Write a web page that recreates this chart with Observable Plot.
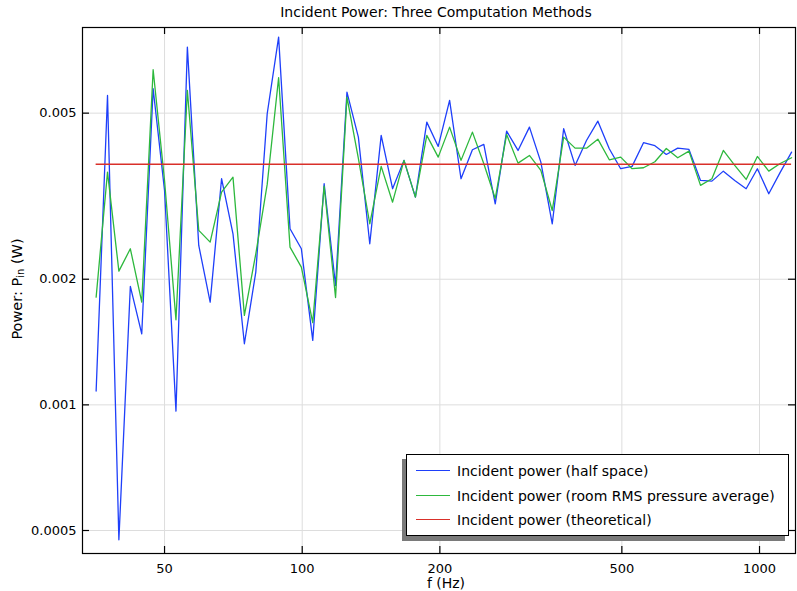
<!DOCTYPE html>
<html><head><meta charset="utf-8">
<script src="https://cdn.jsdelivr.net/npm/d3@7"></script>
<script src="https://cdn.jsdelivr.net/npm/@observablehq/plot@0.6"></script>
<style>
body{margin:0;background:#fff;font-family:"DejaVu Sans",sans-serif;color:#000;}
#wrap{position:relative;width:797px;height:591px;overflow:hidden;}
#wrap svg{position:absolute;left:0;top:0;}
.title{position:absolute;left:186px;top:5px;width:500px;text-align:center;font-size:14px;line-height:15px;}
.xlab{position:absolute;left:346px;top:576px;width:200px;text-align:center;font-size:14px;line-height:14px;}
.ylab{position:absolute;left:-83px;top:281px;width:200px;height:16px;text-align:center;font-size:14.5px;line-height:16px;transform:rotate(-90deg);transform-origin:50% 50%;}
.ylab sub{font-size:10px;vertical-align:-2px;line-height:0;}
.legend{position:absolute;left:406px;top:454px;width:383px;height:82px;box-sizing:border-box;border:1px solid #000;background:#fff;box-shadow:-4px 5px 0 #7a7a7a;}
.row{position:absolute;left:0;height:16px;width:100%;}
.row .sw{position:absolute;left:9px;top:7px;width:34px;height:0;border-top:1.5px solid;}
.row .tx{position:absolute;left:50px;top:0;font-size:14px;line-height:16px;white-space:nowrap;}
</style></head>
<body>
<div id="wrap"></div>
<script>
const freq = [35.43, 37.52, 39.73, 42.09, 44.58, 47.21, 50.00, 52.96, 56.09, 59.40,
  62.91, 66.63, 70.57, 74.74, 79.16, 83.84, 88.80, 94.05, 99.57, 105.45,
  111.68, 118.28, 125.27, 132.68, 140.52, 148.83, 157.62, 166.94, 176.81, 187.26,
  198.33, 210.05, 222.46, 235.61, 249.54, 264.29, 279.91, 296.45, 313.97, 332.53,
  352.19, 373.01, 395.05, 418.40, 443.13, 469.32, 497.06, 526.44, 557.56, 590.51,
  625.42, 662.39, 701.0, 743.00, 786.92, 833.43, 882.70, 934.87, 989.26, 1047.7,
  1109.7, 1175.2];
const halfSpace = [0.001079, 0.005513, 0.000475, 0.001922, 0.001480, 0.005720, 0.003265, 0.000966, 0.007197, 0.002410,
  0.001763, 0.003482, 0.002570, 0.001401, 0.002080, 0.004983, 0.007605, 0.002642, 0.002366, 0.001427,
  0.003387, 0.001932, 0.005614, 0.004380, 0.002432, 0.004422, 0.003295, 0.003853, 0.003145, 0.004758,
  0.004161, 0.005363, 0.003482, 0.004086, 0.004207, 0.003032, 0.004527, 0.004070, 0.004629, 0.003816,
  0.002716, 0.004588, 0.003747, 0.004300, 0.004784, 0.004108, 0.003680, 0.003727, 0.004247, 0.004177,
  0.003981, 0.004122, 0.004093, 0.003449, 0.003436, 0.003631, 0.003449, 0.003295, 0.003680, 0.003204,
  0.003606, 0.004031];
const roomRms = [0.001811, 0.003612, 0.002091, 0.002366, 0.001763, 0.006353, 0.003449, 0.001599, 0.005667, 0.002618,
  0.002454, 0.003234, 0.003512, 0.001638, 0.002301, 0.003374, 0.006079, 0.002387, 0.002138, 0.001575,
  0.003343, 0.001808, 0.005461, 0.003896, 0.002716, 0.003727, 0.003059, 0.003853, 0.003145, 0.004422,
  0.003923, 0.004629, 0.003853, 0.004503, 0.003782, 0.003122, 0.004445, 0.003795, 0.003959, 0.003646,
  0.002922, 0.004380, 0.004122, 0.004122, 0.004331, 0.003866, 0.003923, 0.003680, 0.003699, 0.003824,
  0.004114, 0.003909, 0.004054, 0.003356, 0.003482, 0.004070, 0.003747, 0.003468, 0.003937, 0.003631,
  0.003787, 0.003909];
const theoretical = 0.00377;
const xTicks = [50, 100, 200, 500, 1000];
const xTickLabels = ["50", "100", "200", "500", "1000"];
const yTicks = [0.0005, 0.001, 0.002, 0.005];
const yTickLabels = ["0.0005", "0.001", "0.002", "0.005"];
const seriesNames = ["Incident power (half space)", "Incident power (room RMS pressure average)", "Incident power (theoretical)"];
const colors = ["#1e3ffa", "#2db83d", "#d9302a"];

const halfRows = freq.map((f, i) => ({f, p: halfSpace[i]}));
const rmsRows = freq.map((f, i) => ({f, p: roomRms[i]}));

const W = 797, H = 591, mL = 82, mR = 2, mT = 27, mB = 38;
const fw = W - mL - mR, fh = H - mT - mB, tl = 7;

const chart = Plot.plot({
  width: W, height: H,
  marginLeft: mL, marginRight: mR, marginTop: mT, marginBottom: mB,
  style: {fontFamily: "DejaVu Sans", fontSize: "13px", color: "black", background: "white"},
  x: {type: "log", domain: [33.08, 1198.6]},
  y: {type: "log", domain: [0.0004404, 0.00802]},
  marks: [
    Plot.gridX(xTicks, {stroke: "#dddddd", strokeOpacity: 1, strokeWidth: 1}),
    Plot.gridY(yTicks, {stroke: "#dddddd", strokeOpacity: 1, strokeWidth: 1}),
    Plot.line(halfRows, {x: "f", y: "p", stroke: colors[0], strokeWidth: 1.3}),
    Plot.line(rmsRows, {x: "f", y: "p", stroke: colors[1], strokeWidth: 1.3}),
    Plot.ruleY([theoretical], {x1: freq[0], x2: freq[freq.length - 1], stroke: colors[2], strokeWidth: 1.4}),
    Plot.frame({stroke: "black", strokeWidth: 1.2}),
    Plot.tickX(xTicks, {x: d => d, insetTop: fh - tl, stroke: "black", strokeWidth: 1.2}),
    Plot.tickX(xTicks, {x: d => d, insetBottom: fh - tl, stroke: "black", strokeWidth: 1.2}),
    Plot.tickY(yTicks, {y: d => d, insetRight: fw - tl, stroke: "black", strokeWidth: 1.2}),
    Plot.tickY(yTicks, {y: d => d, insetLeft: fw - tl, stroke: "black", strokeWidth: 1.2}),
    Plot.axisX({ticks: xTicks, tickSize: 0, tickPadding: 10, label: null,
      tickFormat: d => xTickLabels[xTicks.indexOf(d)]}),
    Plot.axisY({ticks: yTicks, tickSize: 0, tickPadding: 6, label: null,
      tickFormat: d => yTickLabels[yTicks.indexOf(d)]})
  ]
});

const wrap = document.getElementById("wrap");
wrap.appendChild(chart);

const title = document.createElement("div");
title.className = "title";
title.textContent = "Incident Power: Three Computation Methods";
wrap.appendChild(title);

const xlab = document.createElement("div");
xlab.className = "xlab";
xlab.textContent = "f (Hz)";
wrap.appendChild(xlab);

const ylab = document.createElement("div");
ylab.className = "ylab";
ylab.innerHTML = "Power: P<sub>in</sub> (W)";
wrap.appendChild(ylab);

const legend = document.createElement("div");
legend.className = "legend";
const rowTops = [8, 33, 57];
seriesNames.forEach((name, i) => {
  const r = document.createElement("div");
  r.className = "row";
  r.style.top = rowTops[i] + "px";
  const sw = document.createElement("div");
  sw.className = "sw";
  sw.style.borderTopColor = colors[i];
  const tx = document.createElement("div");
  tx.className = "tx";
  tx.textContent = name;
  r.appendChild(sw); r.appendChild(tx);
  legend.appendChild(r);
});
wrap.appendChild(legend);
</script>
</body></html>
